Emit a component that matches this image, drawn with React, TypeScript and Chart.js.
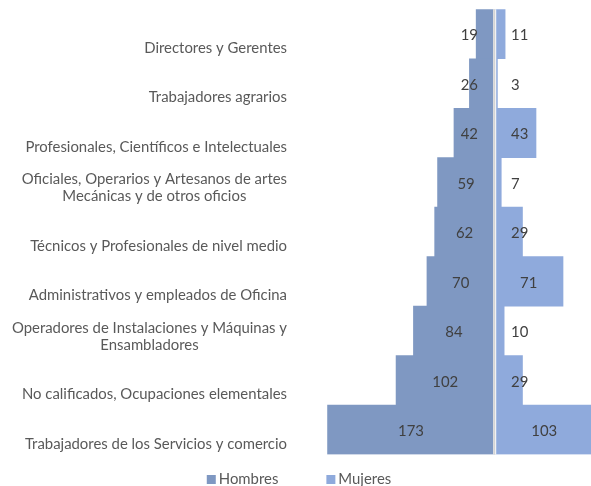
import React, { useEffect, useRef } from "react";
import { Chart, registerables } from "chart.js";

Chart.register(...registerables);

// ---- data ----
const categoryLines: string[][] = [
  ["Directores y Gerentes"],
  ["Trabajadores agrarios"],
  ["Profesionales, Científicos e Intelectuales"],
  ["Oficiales, Operarios y Artesanos de artes", "Mecánicas y de otros oficios"],
  ["Técnicos y Profesionales de nivel medio"],
  ["Administrativos y empleados de Oficina"],
  ["Operadores de Instalaciones y Máquinas y", "Ensambladores"],
  ["No calificados, Ocupaciones elementales"],
  ["Trabajadores de los Servicios y comercio"],
];
const hombres = [19, 26, 42, 59, 62, 70, 84, 102, 173];
const mujeres = [11, 3, 43, 7, 29, 71, 10, 29, 103];
const seriesNames = ["Hombres", "Mujeres"];
const xMin = -200;
const xMax = 100;

// ---- style ----
const FONT = "Lato, 'Open Sans', sans-serif";
const FONT_SIZE = 14.9;
const COLOR_H = "#7F98C2";
const COLOR_M = "#8FAADC";
const LABEL_GAP = 16.5;

const overlayPlugin = {
  id: "overlay",
  afterDatasetsDraw(chart: any) {
    const ctx: CanvasRenderingContext2D = chart.ctx;
    const xs = chart.scales.x;
    const area = chart.chartArea;
    const x0 = xs.getPixelForValue(0);
    ctx.save();
    // zero axis line
    ctx.fillStyle = "#ffffff";
    ctx.fillRect(x0 - 1.3, area.top, 3, area.bottom - area.top);
    ctx.fillStyle = "#D4D4D4";
    ctx.fillRect(x0 - 1.2, area.top, 2, area.bottom - area.top);

    // data labels
    ctx.font = `${FONT_SIZE}px ${FONT}`;
    ctx.fillStyle = "#404040";
    ctx.textAlign = "center";
    ctx.textBaseline = "middle";
    chart.data.datasets.forEach((ds: any, di: number) => {
      const meta = chart.getDatasetMeta(di);
      meta.data.forEach((bar: any, i: number) => {
        const v = ds.data[i] as number;
        const text = String(Math.abs(v));
        const w = ctx.measureText(text).width;
        const center = xs.getPixelForValue(v / 2);
        const cx = v < 0 ? Math.min(center, x0 - LABEL_GAP - w / 2) : Math.max(center, x0 + LABEL_GAP + w / 2);
        ctx.fillText(text, cx, bar.y + 1.5);
      });
    });
    ctx.restore();
  },
  afterDraw(chart: any) {
    const ctx: CanvasRenderingContext2D = chart.ctx;
    const ys = chart.scales.y;
    ctx.save();
    ctx.font = `${FONT_SIZE}px ${FONT}`;
    ctx.fillStyle = "#595959";
    ctx.textAlign = "center";
    ctx.textBaseline = "middle";
    const rightEdge = 287;
    const lh = 17;
    categoryLines.forEach((lines, i) => {
      const yc = ys.getPixelForValue(i);
      const maxW = Math.max(...lines.map((l) => ctx.measureText(l).width));
      const cx = rightEdge - maxW / 2;
      const n = lines.length;
      lines.forEach((l, k) => {
        ctx.fillText(l, cx, yc + 14 - (n - 1 - k) * lh);
      });
    });

    // legend
    const colors = [COLOR_H, COLOR_M];
    const box = 9;
    const textGap = 3;
    const itemGap = 48;
    const widths = seriesNames.map((s) => ctx.measureText(s).width);
    const total = widths.reduce((a, w) => a + box + textGap + w, 0) + itemGap * (seriesNames.length - 1);
    let lx = 299 - total / 2;
    const ly = 479.5;
    ctx.textAlign = "left";
    seriesNames.forEach((s, k) => {
      ctx.fillStyle = colors[k];
      ctx.fillRect(lx, ly - 4.5, box, box);
      ctx.fillStyle = "#595959";
      ctx.fillText(s, lx + box + textGap, ly);
      lx += box + textGap + widths[k] + itemGap;
    });
    ctx.restore();
  },
};

export default function App() {
  const ref = useRef<HTMLCanvasElement | null>(null);
  useEffect(() => {
    if (!ref.current) return;
    const chart = new Chart(ref.current, {
      type: "bar",
      data: {
        labels: categoryLines.map((l) => l.join(" ")),
        datasets: [
          {
            label: seriesNames[0],
            data: hombres.map((v) => -v),
            backgroundColor: COLOR_H,
            categoryPercentage: 1,
            barPercentage: 1,
            borderWidth: 0,
          },
          {
            label: seriesNames[1],
            data: mujeres,
            backgroundColor: COLOR_M,
            categoryPercentage: 1,
            barPercentage: 1,
            borderWidth: 0,
          },
        ],
      },
      options: {
        indexAxis: "y",
        responsive: false,
        animation: false,
        layout: { padding: { left: 301.5, right: 0, top: 9.3, bottom: 31.5 } },
        scales: {
          x: { type: "linear", min: xMin, max: xMax, stacked: true, display: false },
          y: { type: "category", stacked: true, display: false, offset: true },
        },
        plugins: {
          legend: { display: false },
          tooltip: { enabled: false },
        },
      },
      plugins: [overlayPlugin],
    });
    return () => chart.destroy();
  }, []);
  return (
    <div style={{ position: "absolute", left: 0, top: 0, width: 591, height: 486, background: "#fff" }}>
      <canvas ref={ref} width={591} height={486} style={{ display: "block" }} />
    </div>
  );
}
